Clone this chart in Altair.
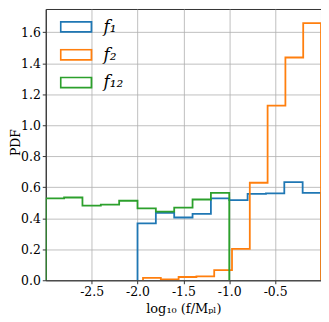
import altair as alt
import pandas as pd

series_names = ["f₁", "f₂", "f₁₂"]
series_colors = ["#1f77b4", "#ff7f0e", "#2ca02c"]

f1_edges = [-2.0, -1.8, -1.6, -1.4, -1.2, -1.0, -0.8, -0.6, -0.4, -0.2, 0.0]
f1_heights = [0.367, 0.435, 0.405, 0.428, 0.528, 0.517, 0.557, 0.561, 0.633, 0.564]

f2_edges = [-1.94, -1.746, -1.552, -1.358, -1.164, -0.97, -0.776, -0.582, -0.388, -0.194, 0.0]
f2_heights = [0.015, 0.006, 0.021, 0.025, 0.065, 0.203, 0.629, 1.127, 1.437, 1.659]

f12_edges = [-3.0, -2.8, -2.6, -2.4, -2.2, -2.0, -1.8, -1.6, -1.4, -1.2, -1.0]
f12_heights = [0.528, 0.534, 0.481, 0.488, 0.513, 0.464, 0.443, 0.469, 0.521, 0.564]

x_ticks = [-2.5, -2.0, -1.5, -1.0, -0.5]
y_ticks = [0.0, 0.2, 0.4, 0.6, 0.8, 1.0, 1.2, 1.4, 1.6]


def step_rows(name, edges, heights):
    rows = [(edges[0], 0.0)]
    for i, h in enumerate(heights):
        rows.append((edges[i], h))
        rows.append((edges[i + 1], h))
    rows.append((edges[-1], 0.0))
    return [{"series": name, "x": x, "y": y, "order": k} for k, (x, y) in enumerate(rows)]


records = (
    step_rows(series_names[0], f1_edges, f1_heights)
    + step_rows(series_names[1], f2_edges, f2_heights)
    + step_rows(series_names[2], f12_edges, f12_heights)
)
df = pd.DataFrame(records)

font = "DejaVu Serif"

chart = (
    alt.Chart(df)
    .mark_line(strokeWidth=1.8, clip=True)
    .encode(
        x=alt.X(
            "x:Q",
            scale=alt.Scale(domain=[-3.0, 0.0], nice=False, zero=False),
            axis=alt.Axis(
                values=x_ticks,
                labelExpr="replace(format(datum.value, '.1f'), '\u2212', '-')",
                title="log₁₀ (f/Mₚₗ)",
            ),
        ),
        y=alt.Y(
            "y:Q",
            scale=alt.Scale(domain=[0.0, 1.75], nice=False),
            axis=alt.Axis(
                values=y_ticks,
                format=".1f",
                title="PDF",
                titleX=-23,
                titleY=134,
                titleAngle=270,
                titleAlign="center",
                titleBaseline="bottom",
            ),
        ),
        color=alt.Color(
            "series:N",
            scale=alt.Scale(domain=series_names, range=series_colors),
            legend=alt.Legend(
                title=None,
                orient="none",
                legendX=14,
                legendY=12,
                symbolType="M-1,-0.33H1V0.33H-1Z",
                symbolSize=961,
                symbolStrokeWidth=1.8,
                symbolFillColor="transparent",
                clipHeight=12,
                rowPadding=11,
                labelFont=font,
                labelFontStyle="italic",
                labelFontSize=17,
                labelOffset=11,
                labelColor="black",
            ),
        ),
        order="order:Q",
    )
    .properties(
        width=277,
        height=273,
        padding={"left": 38, "top": 0, "right": 0, "bottom": 40},
        autosize=alt.AutoSizeParams(type="none"),
    )
    .configure_view(stroke="#333333", strokeWidth=1)
    .configure_axis(
        labelFont=font,
        labelFontSize=12.5,
        labelColor="black",
        titleFont=font,
        titleColor="black",
        titleFontWeight="normal",
        domainColor="#333333",
        tickColor="#333333",
        tickSize=3.5,
        labelPadding=2,
        gridColor="#b0b0b0",
        gridWidth=0.8,
        grid=True,
    )
    .configure_axisX(titleFontSize=13, titlePadding=4)
    .configure_axisY(titleFontSize=12.5)
)

chart.save("out.html", embed_options={"renderer": "svg", "actions": False})
